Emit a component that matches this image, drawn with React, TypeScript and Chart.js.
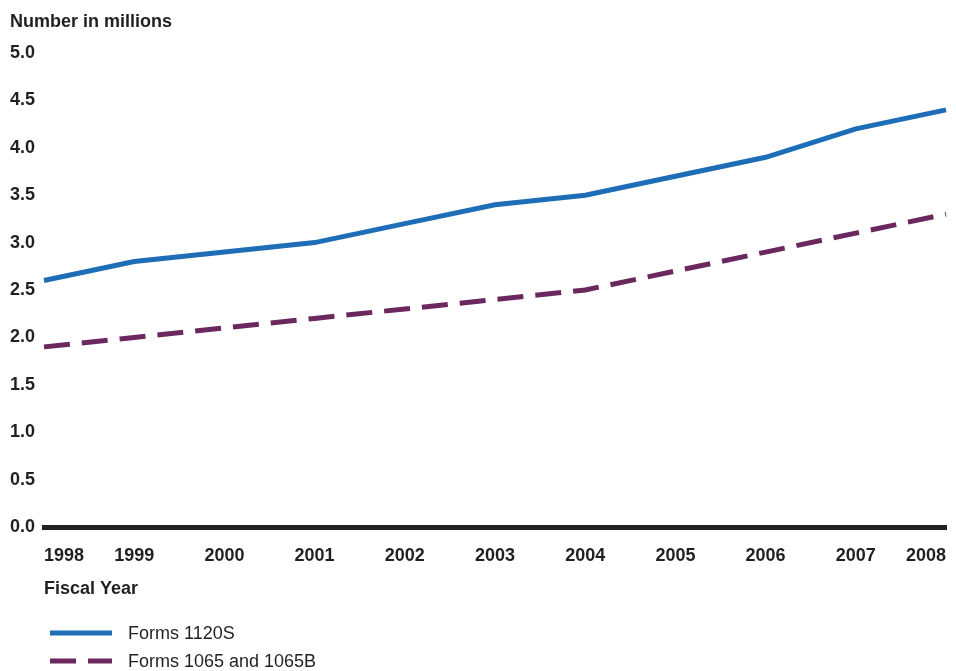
import React, { useEffect, useRef } from "react";
import { Chart, registerables } from "chart.js";

Chart.register(...registerables);

const years = ["1998", "1999", "2000", "2001", "2002", "2003", "2004", "2005", "2006", "2007", "2008"];
const forms1120S = [2.6, 2.8, 2.9, 3.0, 3.2, 3.4, 3.5, 3.7, 3.9, 4.2, 4.4];
const forms1065 = [1.9, 2.0, 2.1, 2.2, 2.3, 2.4, 2.5, 2.7, 2.9, 3.1, 3.3];
const seriesLabels = ["Forms 1120S", "Forms 1065 and 1065B"];

const FONT = "'Liberation Sans', Arial, Helvetica, sans-serif";
const TEXT = "#231f20";
const BLUE = "#1e6db7";
const PURPLE = "#6a285e";

const legendPlugin = {
  id: "stackedLegend",
  afterDraw(chart: any) {
    const ctx = chart.ctx;
    const rows = [633, 661];
    ctx.save();
    chart.data.datasets.forEach((ds: any, i: number) => {
      const y = rows[i];
      ctx.beginPath();
      ctx.strokeStyle = ds.borderColor;
      ctx.lineWidth = ds.borderWidth;
      ctx.lineCap = "butt";
      ctx.setLineDash(ds.borderDash || []);
      ctx.moveTo(50, y);
      ctx.lineTo(112, y);
      ctx.stroke();
      ctx.setLineDash([]);
      ctx.fillStyle = TEXT;
      ctx.font = `18px ${FONT}`;
      ctx.textAlign = "left";
      ctx.textBaseline = "middle";
      ctx.fillText(ds.label, 128, y + 1);
    });
    ctx.restore();
  },
};

export default function App() {
  const ref = useRef<HTMLCanvasElement>(null);
  useEffect(() => {
    if (!ref.current) return;
    const chart = new Chart(ref.current, {
      type: "line",
      data: {
        labels: years,
        datasets: [
          {
            label: seriesLabels[0],
            data: forms1120S,
            borderColor: BLUE,
            backgroundColor: BLUE,
            borderWidth: 5,
            pointRadius: 0,
            tension: 0,
          },
          {
            label: seriesLabels[1],
            data: forms1065,
            borderColor: PURPLE,
            backgroundColor: PURPLE,
            borderWidth: 5,
            borderDash: [26, 12],
            pointRadius: 0,
            tension: 0,
          },
        ],
      },
      options: {
        animation: false,
        responsive: true,
        maintainAspectRatio: false,
        layout: { padding: { left: 10, right: 10, top: 0, bottom: 44 } },
        plugins: {
          legend: { display: false },
          tooltip: { enabled: false },
          title: {
            display: true,
            text: "Number in millions",
            align: "start",
            color: TEXT,
            font: { family: FONT, size: 18, weight: "bold" },
            padding: { top: 11, bottom: 20.4 },
          },
        },
        scales: {
          x: {
            type: "category",
            offset: false,
            grid: { display: false, drawTicks: false },
            border: { display: true, color: TEXT, width: 5 },
            ticks: {
              align: "inner",
              autoSkip: false,
              maxRotation: 0,
              padding: 18,
              color: TEXT,
              font: { family: FONT, size: 18, weight: "bold" },
            },
            title: {
              display: true,
              text: "Fiscal Year",
              align: "start",
              color: TEXT,
              font: { family: FONT, size: 18, weight: "bold" },
              padding: { top: 0, bottom: 27 },
            },
            afterFit: (scale: any) => {
              scale.height = 100;
              scale.paddingLeft = 0;
              scale.paddingRight = 0;
            },
          },
          y: {
            min: 0,
            max: 5,
            grid: { display: false, drawTicks: false },
            border: { display: false },
            ticks: {
              stepSize: 0.5,
              crossAlign: "far",
              color: TEXT,
              font: { family: FONT, size: 18, weight: "bold" },
              callback: (v: any) => Number(v).toFixed(1),
            },
            afterFit: (scale: any) => {
              scale.width = 34;
            },
          },
        },
      },
      plugins: [legendPlugin],
    });
    return () => chart.destroy();
  }, []);
  return (
    <div style={{ position: "fixed", left: 0, top: 0, width: 956, height: 671, background: "#fff" }}>
      <canvas ref={ref} />
    </div>
  );
}
